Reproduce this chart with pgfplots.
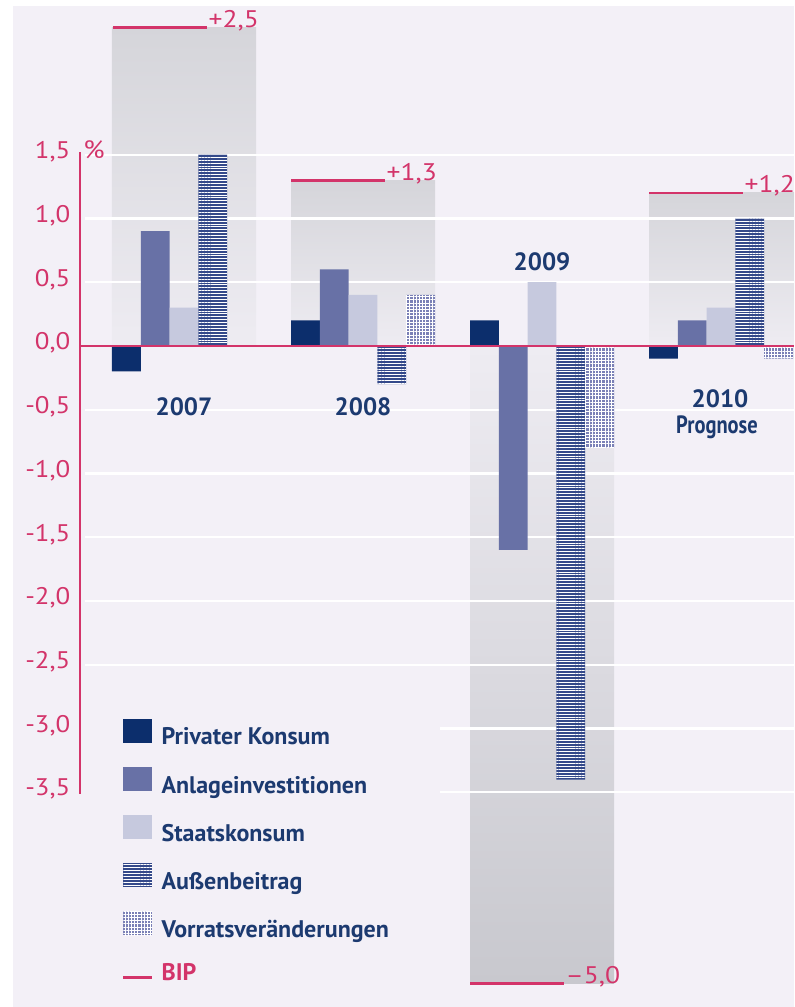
\documentclass[border=0pt]{standalone}
\usepackage{pgfplots}
\pgfplotsset{compat=1.18}
\usetikzlibrary{patterns.meta}
\usepackage{fontspec}
\setmainfont{PT Sans}
\definecolor{bg}{HTML}{F3F0F7}
\definecolor{crimson}{HTML}{D3346A}
\definecolor{navy}{HTML}{1C3A70}
\definecolor{cP}{HTML}{0C2E6C}
\definecolor{cA}{HTML}{6871A6}
\definecolor{cS}{HTML}{C6C9DE}
\definecolor{cAu}{HTML}{34498A}
\definecolor{cV}{HTML}{7A80B6}
\definecolor{boxdark}{HTML}{D5D5DA}
\definecolor{boxlight}{HTML}{EEECF2}
\definecolor{boxdeep}{HTML}{C8C8CE}
\pgfplotsset{
  barimg/.style={legend image code/.code={\fill[#1] (0pt,-2.5pt) rectangle (14.5pt,9.5pt);}},
  bipimg/.style={legend image code/.code={\draw[#1] (0pt,-2pt) -- (14.5pt,-2pt);}},
}
\begin{document}
\begin{tikzpicture}
\useasboundingbox (0,0) rectangle (397pt,503.5pt);
\fill[white] (0,0) rectangle (397pt,503.5pt);
\fill[bg] (6.5pt,0) rectangle (397pt,500.5pt);
\begin{axis}[
  at={(39pt,0pt)}, anchor=south west,
  scale only axis, width=358pt, height=503.5pt,
  xmin=78, xmax=794, ymin=-5.1843, ymax=2.7137,
  clip=false,
  axis lines=left, axis line style={draw=none},
  xtick=\empty,
  ytick={-3.5,-3,-2.5,-2,-1.5,-1,-0.5,0,0.5,1,1.5},
  yticklabels={{-3,5},{-3,0},{-2,5},{-2,0},{-1,5},{-1,0},{-0,5},{0,0},{0,5},{1,0},{1,5}},
  ytick style={draw=none},
  yticklabel style={text=crimson, font=\fontsize{12}{14}\selectfont, xscale=1.12, yshift=1.5pt, xshift=2pt},
  legend style={
    at={(axis cs:122,-2.925)}, anchor=north west, draw=none, fill=none,
    inner sep=0pt, outer sep=0pt,
    font=\bfseries\fontsize{12}{14}\selectfont, text=navy,
    row sep=7.5pt,
    /tikz/every odd column/.append style={column sep=2pt},
  },
  legend cell align=left,
]
% BIP shaded boxes
\addplot[draw=none, top color=boxdark, bottom color=boxlight, forget plot] coordinates {(112,0) (112,2.5) (256,2.5) (256,0)} -- cycle;
\addplot[draw=none, top color=boxdark, bottom color=boxlight, forget plot] coordinates {(291,0) (291,1.3) (435,1.3) (435,0)} -- cycle;
\addplot[draw=none, top color=boxlight, bottom color=boxdeep, forget plot] coordinates {(470,0) (470,-5.0) (614,-5.0) (614,0)} -- cycle;
\addplot[draw=none, top color=boxdark, bottom color=boxlight, forget plot] coordinates {(649,0) (649,1.2) (794,1.2) (794,0)} -- cycle;
% grid lines
\pgfplotsinvokeforeach{-2.5,-2,-1.5,-1,-0.5,0.5,1,1.5}{
  \draw[white, line width=1.2pt] (axis cs:85,#1) -- (axis cs:794,#1);
}
\pgfplotsinvokeforeach{-3.5,-3}{
  \draw[white, line width=1.2pt] (axis cs:440,#1) -- (axis cs:794,#1);
}
% bars
\addplot[ybar, bar width=28.8, bar shift=0pt, draw=none, fill=cP, barimg] coordinates {(126.4,-0.2) (305.4,0.2) (484.4,0.2) (663.4,-0.1)};
\addlegendentry{Privater Konsum}
\addplot[ybar, bar width=28.8, bar shift=0pt, draw=none, fill=cA, barimg] coordinates {(155.2,0.9) (334.2,0.6) (513.2,-1.6) (692.2,0.2)};
\addlegendentry{Anlageinvestitionen}
\addplot[ybar, bar width=28.8, bar shift=0pt, draw=none, fill=cS, barimg] coordinates {(184.0,0.3) (363.0,0.4) (542.0,0.5) (721.0,0.3)};
\addlegendentry{Staatskonsum}
\addplot[ybar, bar width=28.8, bar shift=0pt, draw=none, fill=cAu, postaction={pattern={Lines[angle=0,distance=1.45pt,line width=0.45pt]}, pattern color=white}, barimg] coordinates {(212.8,1.5) (391.8,-0.3) (570.8,-3.4) (749.8,1.0)};
\addlegendentry{Außenbeitrag}
\addplot[ybar, bar width=28.8, bar shift=0pt, draw=none, fill=cV, postaction={pattern={Hatch[angle=0,distance=1.6pt,line width=0.3pt]}, pattern color=white}, barimg] coordinates {(420.6,0.4) (599.6,-0.8) (778.6,-0.1)};
\addlegendentry{Vorratsveränderungen}
% zero line and axis
\draw[crimson, line width=1.2pt] (axis cs:80,0) -- (axis cs:794,0);
\draw[crimson, line width=1pt] (axis cs:80.5,1.52) -- (axis cs:80.5,-3.51);
% BIP lines
\addplot[crimson, line width=1.3pt, unbounded coords=jump, bipimg] coordinates {(113,2.5) (207,2.5) (207,nan) (291,1.3) (385,1.3) (385,nan) (470,-5.0) (564,-5.0) (564,nan) (649,1.2) (743,1.2)};
\addlegendentry{\textcolor{crimson}{BIP}}
% labels
\begin{scope}[every node/.style={crimson, inner sep=0.5pt, anchor=base west, xscale=1.15, font=\fontsize{12}{14}\selectfont}]
\node at (axis cs:207,2.5) {+2,5};
\node at (axis cs:385,1.3) {+1,3};
\node at (axis cs:564,-5.0) {–5,0};
\node at (axis cs:743,1.2) {+1,2};
\end{scope}
\node[crimson, anchor=west, inner sep=0pt, xscale=1.1, font=\fontsize{12.5}{14}\selectfont] at (axis cs:83,1.54) {\%};
\begin{scope}[every node/.style={navy, inner sep=0pt, font=\bfseries\fontsize{12.5}{14}\selectfont}]
\node at (axis cs:184,-0.478) {2007};
\node at (axis cs:363,-0.478) {2008};
\node at (axis cs:542,0.659) {2009};
\node at (axis cs:720,-0.416) {2010};
\node[xscale=0.82] at (axis cs:717,-0.64) {Prognose};
\end{scope}
\end{axis}
\end{tikzpicture}
\end{document}
